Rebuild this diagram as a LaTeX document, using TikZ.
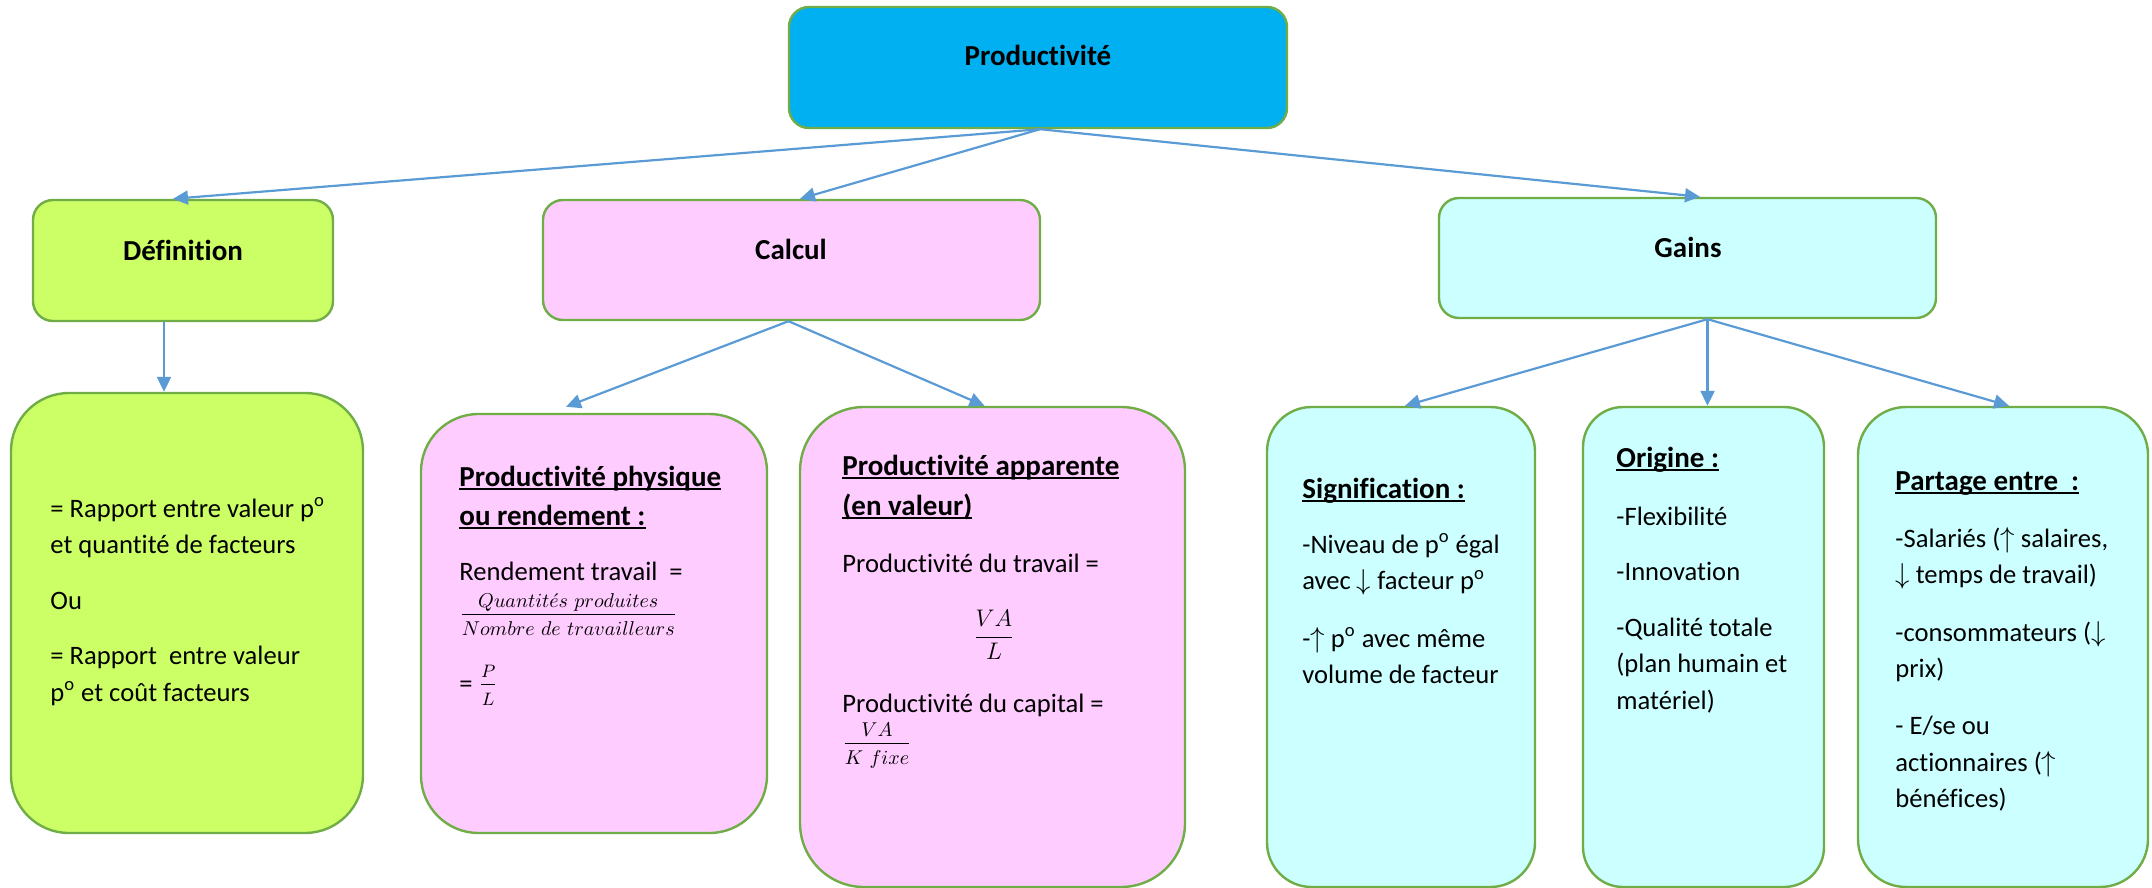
\documentclass[tikz,border=0pt]{standalone}
\usepackage{fontspec}
\setmainfont{Carlito}[Ligatures={NoCommon}]
\usetikzlibrary{arrows.meta}
\definecolor{boxgreen}{HTML}{70AD47}
\definecolor{arrowblue}{HTML}{5B9BD5}
\definecolor{topblue}{HTML}{00B0F0}
\definecolor{limefill}{HTML}{CCFF66}
\definecolor{pinkfill}{HTML}{FFCCFF}
\definecolor{cyanfill}{HTML}{CCFFFF}
\newsavebox\ulbox
\newcommand\myul[1]{\sbox\ulbox{#1}\rlap{\rule[-2.2pt]{\wd\ulbox}{1.1pt}}\usebox\ulbox}
\newcommand\blk[1]{\begin{tabular}[t]{@{}l@{}}#1\end{tabular}}
\newcommand\pdeg{p\textsuperscript{o}}
\newcommand\fnum[1]{#1\rule[-3pt]{0pt}{0pt}}
\newcommand\fden[1]{\rule{0pt}{9.5pt}#1}
\newcommand\bodyf{\fontsize{13.3pt}{18.3pt}\selectfont}
\newcommand\headf{\fontsize{14.5pt}{19.5pt}\selectfont\bfseries}
\newcommand\fracf{\fontsize{14pt}{17pt}\selectfont}
\newcommand\bigfracf{\fontsize{12.8pt}{15pt}\selectfont}
\begin{document}
\begin{tikzpicture}[x=0.5pt,y=-0.5pt,
  box/.style={draw=boxgreen, line width=1.2pt, inner sep=0pt, rounded corners=#1},
  arr/.style={draw=arrowblue, line width=1.1pt, -{Triangle[length=7.5pt,width=7pt]}},
  title/.style={font=\headf, inner sep=0pt, anchor=base},
  txt/.style={font=\bodyf, inner sep=0pt, anchor=base west},
  head/.style={font=\headf, inner sep=0pt, anchor=base west},
  frac/.style={font=\fracf, inner sep=0pt},
]
\useasboundingbox (0,0) rectangle (2152,888);

% top level
\node[box=10pt, fill=topblue, minimum width=249pt, minimum height=60.5pt] (prod) at (1038,67.5) {};
\node[title] (prodt) at (1038,66) {Productivité};

% second level
\node[box=10pt, fill=limefill, minimum width=150pt, minimum height=60.5pt] (def) at (183,260.5) {};
\node[title] (deft) at (183,260) {Définition};
\node[box=10pt, fill=pinkfill, minimum width=248.5pt, minimum height=60pt] (calc) at (791.5,260) {};
\node[title] (calct) at (791,259) {Calcul};
\node[box=10pt, fill=cyanfill, minimum width=248.5pt, minimum height=60pt] (gains) at (1687.5,258) {};
\node[title] (gainst) at (1688,257) {Gains};

% Definition body
\node[box=29pt, fill=limefill, minimum width=176pt, minimum height=220pt] (defb) at (187,613) {};
\node[txt] (defbt) at (50,517) {\blk{= Rapport entre valeur \pdeg\\ et quantité de facteurs\\[9.5pt] Ou\\[9.5pt] = Rapport\ \ entre valeur\\ \pdeg{} et coût facteurs}};

% Productivite physique
\node[box=28.8pt, fill=pinkfill, minimum width=173pt, minimum height=209.5pt] (phys) at (594,623.5) {};
\node[head] (physh) at (459,486) {\blk{\myul{Productivité physique}\\ \myul{ou rendement :}}};
\node[txt] (physa) at (459,580) {Rendement travail\ \ =};
\node[frac, anchor=base west] (physf) at (459,622) {$\frac{\fnum{Quantit\acute{e}s\ produites}}{\fden{Nombre\ de\ travailleurs}}$};
\node[txt] (physb) at (459,692) {= $\frac{\fnum{P}}{\fden{L}}$};

% Productivite apparente
\node[box=32pt, fill=pinkfill, minimum width=192.5pt, minimum height=240pt] (app) at (992.5,647) {};
\node[head] (apph) at (842,475) {\blk{\myul{Productivité apparente}\\[0.5pt] \myul{(en valeur)}}};
\node[txt] (appa) at (842,572) {Productivité du travail =};
\node[frac, font=\bigfracf, anchor=base] (appf) at (994,643) {$\displaystyle\frac{VA}{L}$};
\node[txt] (appb) at (842,712) {Productivité du capital =};
\node[frac, anchor=base west] (appg) at (842,751) {$\frac{\fnum{VA}}{\fden{K\ fixe}}$};

% Signification
\node[box=22.3pt, fill=cyanfill, minimum width=134pt, minimum height=240pt] (sig) at (1401,647) {};
\node[head] (sigh) at (1302,498) {\myul{Signification :}};
\node[txt] (sigt) at (1302,553) {\blk{-Niveau de \pdeg{} égal\\ avec $\downarrow$ facteur \pdeg\\[10.5pt] -$\uparrow$ \pdeg{} avec même\\ volume de facteur}};

% Origine
\node[box=20pt, fill=cyanfill, minimum width=120.5pt, minimum height=240pt] (orig) at (1703.5,647) {};
\node[head] (origh) at (1616,467) {\myul{Origine :}};
\node[txt] (origt) at (1616,525) {\blk{-Flexibilité\\[9.5pt] -Innovation\\[9.5pt] -Qualité totale\\ (plan humain et\\ matériel)}};

% Partage
\node[box=24pt, fill=cyanfill, minimum width=145pt, minimum height=240pt] (part) at (2003,647) {};
\node[head] (parth) at (1895,490) {\myul{Partage entre\ \ :}};
\node[txt] (partt) at (1895,547) {\blk{-Salariés ($\uparrow$ salaires,\\ $\downarrow$ temps de travail)\\[10.5pt] -consommateurs ($\downarrow$\\ prix)\\[10pt] - E/se ou\\ actionnaires ($\uparrow$\\ bénéfices)}};

% connectors
\draw[arr] ([xshift=1pt]prod.south) -- ([xshift=-5pt]def.north);
\draw[arr] ([xshift=1pt]prod.south) -- ([xshift=4.25pt]calc.north);
\draw[arr] ([xshift=1pt]prod.south) -- ([xshift=6.25pt]gains.north);
\coordinate (dsrc) at ([xshift=-9.5pt]def.south);
\draw[arr] (dsrc) -- (dsrc |- defb.north);
\draw[arr] ([xshift=-1.5pt]calc.south) -- ([xshift=-14pt,yshift=3pt]phys.north);
\draw[arr] ([xshift=-1.5pt]calc.south) -- ([xshift=-4pt]app.north);
\coordinate (gsrc) at ([xshift=10pt]gains.south);
\draw[arr] (gsrc) -- ([xshift=2pt]sig.north);
\draw[arr] (gsrc) -- (gsrc |- orig.north);
\draw[arr] (gsrc) -- ([xshift=3pt]part.north);
\end{tikzpicture}
\end{document}
